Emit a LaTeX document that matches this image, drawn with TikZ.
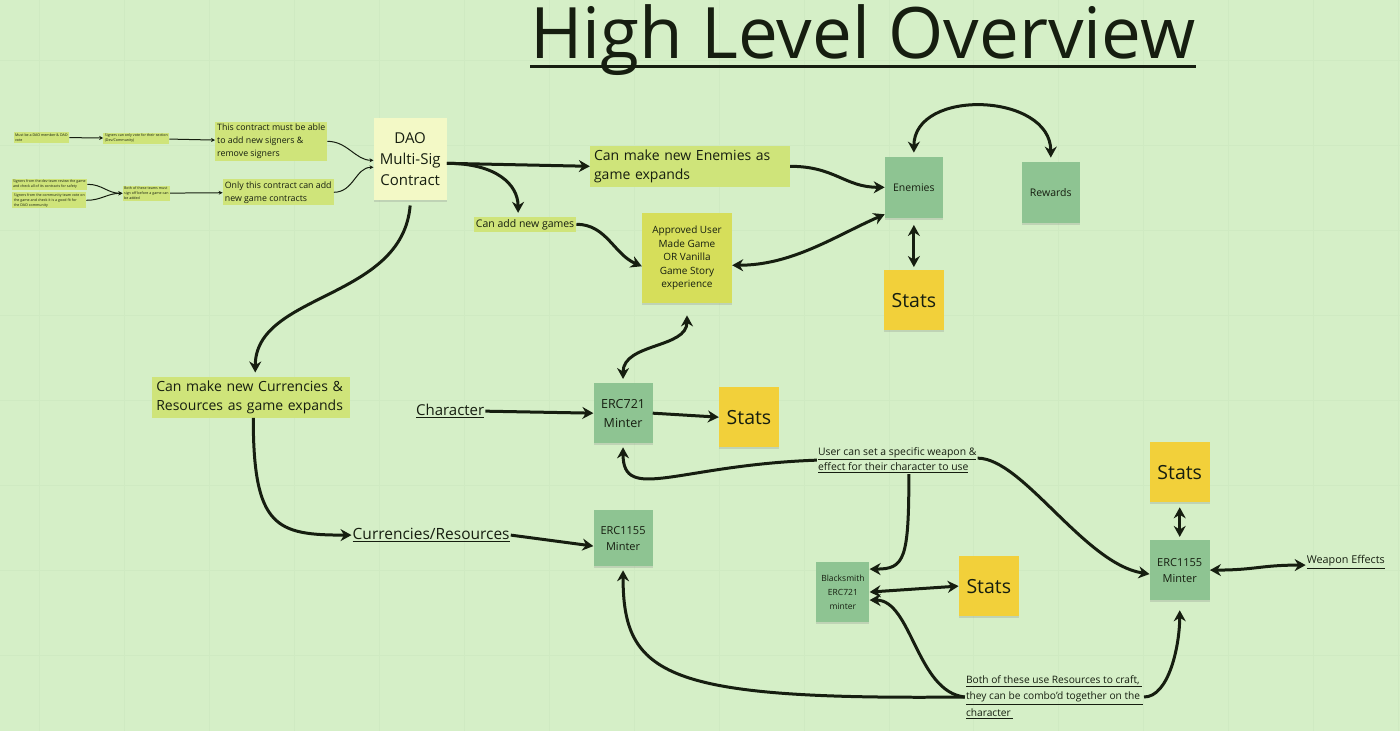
\documentclass[tikz,border=0pt]{standalone}
\usepackage{fontspec}
\setmainfont{Open Sans}
\usetikzlibrary{arrows.meta,positioning,shadows}
\definecolor{boardcolor}{RGB}{213,239,199}
\definecolor{gridcolor}{RGB}{207,234,194}
\definecolor{limecolor}{RGB}{207,228,122}
\definecolor{daocolor}{RGB}{243,249,198}
\definecolor{gamecolor}{RGB}{214,222,90}
\definecolor{mintcolor}{RGB}{142,196,146}
\definecolor{statscolor}{RGB}{242,208,58}
\definecolor{inkcolor}{RGB}{22,30,16}
\newcommand{\setfs}[2]{\fontsize{#1}{#2}\selectfont}

\begin{document}
\begin{tikzpicture}[
    x=1pt, y=-1pt,
    note/.style={rectangle, align=center, text=inkcolor, inner sep=1pt,
      drop shadow={shadow xshift=0pt, shadow yshift=-2pt, opacity=0.25}},
    mint/.style={note, fill=mintcolor, minimum width=59pt, minimum height=60pt},
    stats/.style={note, fill=statscolor, minimum width=60pt, minimum height=60pt, font=\setfs{19.5}{22}},
    tag/.style={rectangle, fill=limecolor, inner sep=2pt, align=left, text=inkcolor},
    tiny/.style={tag, font=\setfs{3.6}{4.8}, inner sep=1.5pt},
    link/.style={text=inkcolor, inner sep=1pt, align=left},
    gridline/.style={gridcolor, line width=0.8pt},
    arrow/.style={-{Stealth[length=11pt,width=12pt]}, line width=3pt, draw=inkcolor},
    twoway/.style={{Stealth[length=11pt,width=12pt]}-{Stealth[length=11pt,width=12pt]}, line width=3pt, draw=inkcolor},
    smallarrow/.style={-{Stealth[length=4pt,width=4pt]}, line width=1pt, draw=inkcolor}
]

% Board
\fill[boardcolor] (0,0) rectangle (1400,731);
\foreach \gx in {39,124,...,1400} \draw[gridline] (\gx,0) -- (\gx,731);
\foreach \gy in {60,145,...,731} \draw[gridline] (0,\gy) -- (1400,\gy);
\useasboundingbox (0,0) rectangle (1400,731);

% Title
\node[anchor=base, inner sep=0pt, text=inkcolor, font=\setfs{71}{73}] (title) at (863,58) {High Level Overview};
\draw[line width=3pt, inkcolor] ([yshift=-8pt]title.base west) -- ([yshift=-8pt]title.base east);

% DAO signers
\node[tiny] (signA) at (41,137) {Must be a DAO member \& DAO\\vote};
\node[tiny] (signB) at (136,138) {Signers can only vote for their section\\(Dev/Community)};
\node[tiny] (teamA) at (49,184) {Signers from the dev team review the game\\and check all of its contracts for safety};
\node[tiny] (teamB) at (49,200) {Signers from the community team vote on\\the game and check it is a good fit for\\the DAO community};
\node[tiny] (teamC) at (146,193) {Both of these teams must\\sign off before a game can\\be added};
\node[tag, font=\setfs{8.8}{13}] (mustsign) at (271,141) {This contract must be able\\to add new signers \&\\remove signers};
\node[tag, font=\setfs{8.8}{13}] (onlythis) at (278,192) {Only this contract can add\\new game contracts};
\node[note, fill=daocolor, minimum width=73pt, minimum height=82pt, font=\setfs{15}{21}] (dao) at (410,159) {DAO\\Multi-Sig\\Contract};

% Games and enemies
\node[tag, font=\setfs{14}{19}, text width=192pt, inner sep=4pt] (enemytag) at (690,166) {Can make new Enemies as\\game expands};
\node[tag, font=\setfs{10.5}{13}] (addtag) at (525,224) {Can add new games};
\node[note, fill=gamecolor, minimum width=90pt, minimum height=90pt, font=\setfs{10}{13.5}] (game) at (687,258) {Approved User\\Made Game\\OR Vanilla\\Game Story\\experience};
\node[mint, minimum width=58pt, minimum height=61pt, font=\setfs{10.5}{13}] (enemies) at (914,187) {Enemies};
\node[mint, minimum width=58pt, minimum height=61pt, font=\setfs{10.5}{13}] (rewards) at (1051,192) {Rewards};
\node[stats] (stats1) at (914,300) {Stats};

% Character and resources
\node[tag, font=\setfs{14}{19}, text width=190pt, inner sep=4pt] (curtag) at (251,397) {Can make new Currencies \&\\Resources as game expands};
\node[link, font=\setfs{15}{18}] (character) at (450,411) {\underline{Character}};
\node[link, font=\setfs{15.5}{18}] (currency) at (431,535) {\underline{Currencies/Resources}};
\node[mint, font=\setfs{12.5}{19}] (erc721) at (623,413) {ERC721\\Minter};
\node[stats] (stats2) at (749,417) {Stats};
\node[mint, minimum height=56pt, font=\setfs{11}{16}] (erc1155a) at (623,538) {ERC1155\\Minter};

% Weapons
\node[link, anchor=west, font=\setfs{10.4}{15.5}] (usertag) at (817,460) {\underline{User can set a specific weapon \&}\\\underline{effect for their character to use}};
\node[mint, minimum width=53pt, font=\setfs{8.5}{14}] (blacksmith) at (843,592) {Blacksmith\\ERC721\\minter};
\node[stats] (stats3) at (989,586) {Stats};
\node[stats] (stats4) at (1180,472) {Stats};
\node[mint, minimum width=60pt, font=\setfs{11}{16}] (erc2) at (1180,570) {ERC1155\\Minter};
\node[link, anchor=west, font=\setfs{10.8}{13}] (effects) at (1306,562) {\underline{Weapon Effects}};
\node[link, anchor=west, font=\setfs{10.2}{16.5}] (bothtag) at (965,697) {\underline{Both of these use Resources to craft, }\\\underline{they can be combo'd together on the }\\\underline{character }};

% Arrows: signers
\draw[smallarrow] (signA) -- (signB);
\draw[smallarrow] (signB) -- (mustsign);
\draw[smallarrow] (teamA.east) .. controls +(15,0) and +(-15,0) .. (teamC.west);
\draw[smallarrow] (teamB.east) .. controls +(15,0) and +(-15,0) .. (teamC.west);
\draw[smallarrow] (teamC) -- (onlythis);
\draw[smallarrow] (mustsign.east) .. controls +(20,0) and +(-18,0) .. ([yshift=-1pt]dao.west);
\draw[smallarrow] (onlythis.east) .. controls +(20,0) and +(-18,0) .. ([yshift=-8pt]dao.west);

% Arrows: DAO
\draw[arrow] ([yshift=-4pt]dao.east) -- (enemytag.west);
\draw[arrow] ([yshift=-4pt]dao.east) .. controls +(50,0) and +(0,-28) .. ([xshift=-7pt, yshift=4pt]addtag.north);
\draw[arrow] ([yshift=-5pt]dao.south) .. controls +(-8,95) and +(0,-80) .. ([xshift=4pt, yshift=4pt]curtag.north);
\draw[arrow] ([xshift=2pt]curtag.south) .. controls +(0,110) and +(-75,0) .. (currency.west);

% Arrows: games and enemies
\draw[arrow] (enemytag.east) .. controls +(45,0) and +(-40,0) .. (enemies.west);
\draw[arrow] (addtag.east) .. controls +(30,0) and +(-28,-12) .. ([yshift=-8pt]game.west);
\draw[twoway] ([yshift=-7pt]game.east) .. controls +(60,0) and +(-50,22) .. ([yshift=-27pt]enemies.west);
\draw[twoway] ([yshift=4pt]enemies.north) .. controls +(0,-65) and +(0,-65) .. ([yshift=4pt]rewards.north);
\draw[twoway, shorten <=7pt, shorten >=3pt] (enemies.south) -- (stats1.north);

% Arrows: character and resources
\draw[arrow] (character.east) -- (erc721.west);
\draw[arrow] (erc721.east) -- (stats2.west);
\draw[twoway, shorten <=4pt, shorten >=12pt] (erc721.north) .. controls +(0,-40) and +(0,45) .. (game.south);
\draw[arrow] (currency.east) -- ([yshift=-8pt]erc1155a.west);

% Arrows: weapons
\draw[arrow, shorten >=4pt] (usertag.west) .. controls +(-140,5) and +(0,60) .. (erc721.south);
\draw[arrow] ([xshift=92pt]usertag.south west) .. controls +(0,85) and +(35,0) .. ([yshift=23pt]blacksmith.east);
\draw[arrow] ([yshift=2pt]usertag.east) .. controls +(45,0) and +(-65,-10) .. ([yshift=-4pt]erc2.west);
\draw[twoway] (blacksmith.east) -- (stats3.west);
\draw[twoway, shorten <=5pt, shorten >=3pt] (stats4.south) -- (erc2.north);
\draw[twoway] (erc2.east) .. controls +(45,0) and +(-45,0) .. ([yshift=-3pt]effects.west);

% Arrows: crafting
\draw[arrow, shorten >=4pt] (bothtag.west) .. controls +(-300,3) and +(0,110) .. (erc1155a.south);
\draw[arrow] (bothtag.west) .. controls +(-48,-5) and +(42,0) .. ([yshift=-8pt]blacksmith.east);
\draw[arrow, shorten >=10pt] (bothtag.east) .. controls +(25,0) and +(0,45) .. (erc2.south);

\end{tikzpicture}
\end{document}
